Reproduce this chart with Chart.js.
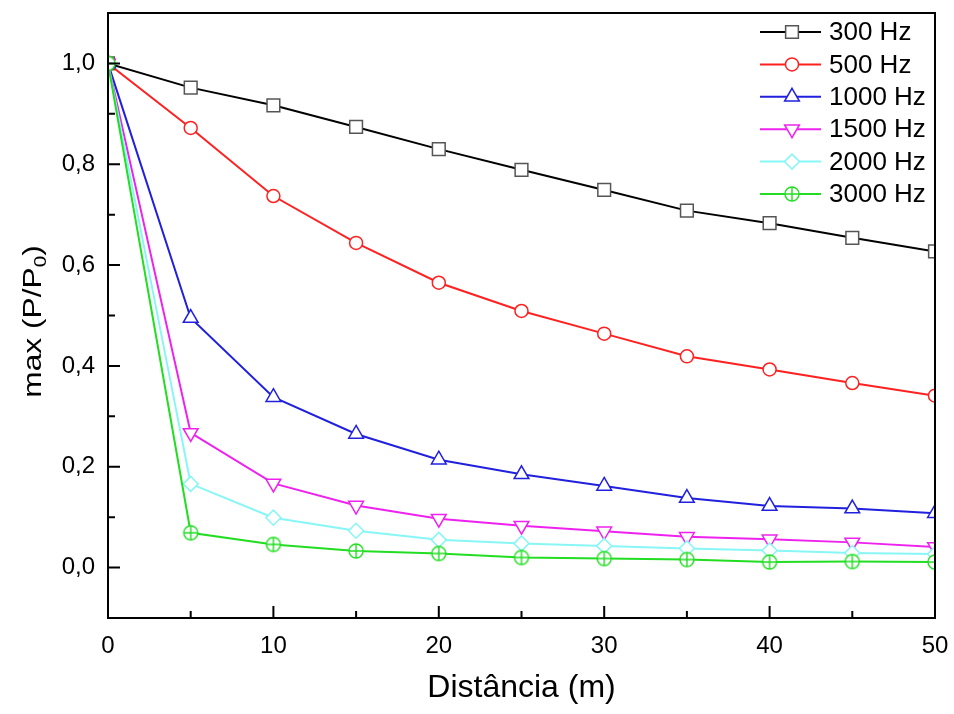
<!DOCTYPE html>
<html>
<head>
<meta charset="utf-8">
<script src="https://cdn.jsdelivr.net/npm/chart.js@4.4.1/dist/chart.umd.min.js"></script>
<style>
  html, body { margin: 0; padding: 0; background: #fff; }
</style>
</head>
<body>
<canvas id="chart" width="954" height="714"></canvas>
<script>
// distance (m) and max(P/P0) per frequency
const distances = [0, 5, 10, 15, 20, 25, 30, 35, 40, 45, 50];
const hz300  = [1.0, 0.952, 0.917, 0.874, 0.830, 0.789, 0.749, 0.708, 0.683, 0.654, 0.627];
const hz500  = [1.0, 0.872, 0.737, 0.644, 0.565, 0.509, 0.464, 0.419, 0.393, 0.366, 0.341];
const hz1000 = [1.0, 0.495, 0.338, 0.265, 0.214, 0.185, 0.162, 0.138, 0.122, 0.117, 0.108];
const hz1500 = [1.0, 0.267, 0.167, 0.123, 0.097, 0.083, 0.072, 0.061, 0.056, 0.050, 0.041];
const hz2000 = [1.0, 0.166, 0.099, 0.073, 0.055, 0.048, 0.043, 0.038, 0.034, 0.029, 0.027];
const hz3000 = [1.0, 0.069, 0.046, 0.033, 0.028, 0.020, 0.018, 0.016, 0.011, 0.012, 0.011];

const seriesLabels = ["300 Hz", "500 Hz", "1000 Hz", "1500 Hz", "2000 Hz", "3000 Hz"];
const xMajor = [0, 10, 20, 30, 40, 50];
const xMinor = [5, 15, 25, 35, 45];
const yMajor = [0, 0.2, 0.4, 0.6, 0.8, 1.0];
const yMinor = [-0.1, 0.1, 0.3, 0.5, 0.7, 0.9];

const FONT = "'Liberation Sans', Arial, sans-serif";
Chart.defaults.font.family = FONT;
Chart.defaults.color = "#000";

function crossCircle(color) {
  const c = document.createElement("canvas");
  c.width = 18;
  c.height = 18;
  const g = c.getContext("2d");
  g.fillStyle = "#fff";
  g.strokeStyle = color;
  g.lineWidth = 1.4;
  g.beginPath();
  g.arc(9, 9, 7, 0, Math.PI * 2);
  g.fill();
  g.stroke();
  g.beginPath();
  g.moveTo(2, 9); g.lineTo(16, 9);
  g.moveTo(9, 2); g.lineTo(9, 16);
  g.stroke();
  return c;
}

const styles = [
  { line: "#000000", mark: "#555555", pointStyle: "rect", radius: 9, rotation: 0 },
  { line: "#ff2020", mark: "#ff2020", pointStyle: "circle", radius: 6.5, rotation: 0 },
  { line: "#2020dd", mark: "#2020dd", pointStyle: "triangle", radius: 8.5, rotation: 0 },
  { line: "#ee22ee", mark: "#ee22ee", pointStyle: "triangle", radius: 8.5, rotation: 180 },
  { line: "#88f6f6", mark: "#88f6f6", pointStyle: "rectRot", radius: 7.5, rotation: 0 },
  { line: "#22dd22", mark: "#22dd22", pointStyle: crossCircle("#22dd22"), radius: 7, rotation: 0 },
];

const values = [hz300, hz500, hz1000, hz1500, hz2000, hz3000];

const datasets = values.map((vals, i) => ({
  label: seriesLabels[i],
  data: distances.map((d, j) => ({ x: d, y: vals[j] })),
  borderColor: styles[i].line,
  borderWidth: 2,
  pointStyle: styles[i].pointStyle,
  pointRadius: styles[i].radius,
  pointRotation: styles[i].rotation,
  pointBorderColor: styles[i].mark,
  pointBackgroundColor: "#fff",
  pointBorderWidth: 1.5,
  tension: 0,
  clip: 0,
  order: values.length - i,
}));

// box around the plot + inward ticks
const frame = {
  id: "frame",
  afterDatasetsDraw(chart) {
    const { ctx, chartArea: a, scales: { x, y } } = chart;
    ctx.save();
    ctx.strokeStyle = "#000";
    ctx.lineWidth = 2;
    ctx.strokeRect(a.left, a.top, a.right - a.left, a.bottom - a.top);
    ctx.beginPath();
    xMajor.forEach(v => { const p = x.getPixelForValue(v); ctx.moveTo(p, a.bottom); ctx.lineTo(p, a.bottom - 12); });
    xMinor.forEach(v => { const p = x.getPixelForValue(v); ctx.moveTo(p, a.bottom); ctx.lineTo(p, a.bottom - 7); });
    yMajor.forEach(v => { const p = y.getPixelForValue(v); ctx.moveTo(a.left, p); ctx.lineTo(a.left + 12, p); });
    yMinor.forEach(v => { const p = y.getPixelForValue(v); ctx.moveTo(a.left, p); ctx.lineTo(a.left + 7, p); });
    ctx.stroke();
    ctx.restore();
  },
};

// legend in the top-right corner: line sample with marker
const legendBox = {
  id: "legendBox",
  afterDraw(chart) {
    const { ctx } = chart;
    ctx.save();
    chart.data.datasets.forEach((ds, i) => {
      const yy = 32 + i * 32.4;
      ctx.strokeStyle = ds.borderColor;
      ctx.lineWidth = 2;
      ctx.beginPath();
      ctx.moveTo(760, yy);
      ctx.lineTo(821, yy);
      ctx.stroke();
      ctx.fillStyle = "#fff";
      ctx.strokeStyle = ds.pointBorderColor;
      ctx.lineWidth = 1.5;
      Chart.helpers.drawPoint(ctx, {
        pointStyle: ds.pointStyle,
        rotation: ds.pointRotation,
        radius: ds.pointRadius,
        borderWidth: 1.5,
      }, 792, yy);
      ctx.fillStyle = "#000";
      ctx.font = "26px " + FONT;
      ctx.textAlign = "left";
      ctx.textBaseline = "middle";
      ctx.fillText(ds.label, 829, yy + 1);
    });
    ctx.restore();
  },
};

// y title with subscript (the original is drawn a bit stretched along its length)
const yTitle = {
  id: "yTitle",
  afterDraw(chart) {
    const { ctx, chartArea: a } = chart;
    const main = "max (P/P";
    const sub = "0";
    const end = ")";
    ctx.save();
    ctx.translate(41, (a.top + a.bottom) / 2 + 6);
    ctx.rotate(-Math.PI / 2);
    ctx.scale(1.22, 1);
    ctx.fillStyle = "#000";
    ctx.textBaseline = "alphabetic";
    ctx.textAlign = "left";
    ctx.font = "26px " + FONT;
    const w1 = ctx.measureText(main).width;
    const w3 = ctx.measureText(end).width;
    ctx.font = "17px " + FONT;
    const w2 = ctx.measureText(sub).width;
    const x0 = -(w1 + w2 + w3) / 2;
    ctx.font = "26px " + FONT;
    ctx.fillText(main, x0, 0);
    ctx.font = "17px " + FONT;
    ctx.fillText(sub, x0 + w1, 5);
    ctx.font = "26px " + FONT;
    ctx.fillText(end, x0 + w1 + w2, 0);
    ctx.restore();
  },
};

new Chart(document.getElementById("chart"), {
  type: "line",
  data: { datasets },
  options: {
    responsive: false,
    animation: false,
    layout: { padding: { top: 13, right: 19, bottom: 7, left: 0 } },
    plugins: {
      legend: { display: false },
      tooltip: { enabled: false },
    },
    scales: {
      x: {
        type: "linear",
        min: 0,
        max: 50,
        afterBuildTicks: s => { s.ticks = xMajor.map(v => ({ value: v })); },
        afterFit: s => { s.height = 89; s.paddingLeft = 0; s.paddingRight = 0; },
        grid: { display: false, drawTicks: false },
        border: { display: false },
        ticks: { font: { size: 24 }, padding: 14, color: "#000" },
        title: { display: true, text: "Distância (m)", font: { size: 32 }, padding: 0, color: "#000" },
      },
      y: {
        type: "linear",
        min: -0.1,
        max: 1.1,
        afterBuildTicks: s => { s.ticks = yMajor.map(v => ({ value: v })); },
        afterFit: s => { s.width = 108; s.paddingTop = 0; s.paddingBottom = 0; },
        grid: { display: false, drawTicks: false },
        border: { display: false },
        ticks: {
          font: { size: 24 },
          padding: 13,
          color: "#000",
          callback: v => v.toFixed(1).replace(".", ","),
        },
      },
    },
  },
  plugins: [frame, legendBox, yTitle],
});
</script>
</body>
</html>
